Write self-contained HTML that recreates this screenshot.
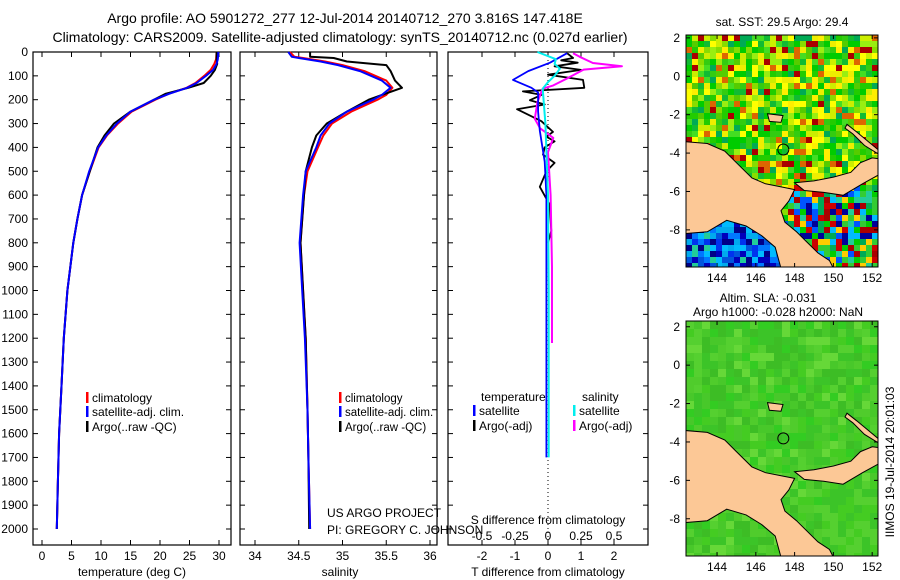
<!DOCTYPE html>
<html><head><meta charset="utf-8"><style>
html,body{margin:0;padding:0;background:#fff;}
svg{display:block;font-family:"Liberation Sans",sans-serif;}
text{fill:#000;}
</style></head><body>
<svg id="s" width="900" height="580" viewBox="0 0 900 580" xmlns="http://www.w3.org/2000/svg">
<text x="345" y="23" font-size="14" text-anchor="middle">Argo profile: AO 5901272_277 12-Jul-2014 20140712_270 3.816S 147.418E</text>
<text x="340" y="42" font-size="14" text-anchor="middle">Climatology: CARS2009. Satellite-adjusted climatology: synTS_20140712.nc (0.027d earlier)</text>
<g id="p1"></g>
<g id="p2"></g>
<g id="p3"></g>
<g id="m1"></g>
<g id="m2"></g>
<text x="327" y="517" font-size="12">US ARGO PROJECT</text>
<text x="327" y="534" font-size="12">PI: GREGORY C. JOHNSON</text>
<text x="782" y="26" font-size="12" text-anchor="middle">sat. SST: 29.5 Argo: 29.4</text>
<text x="768" y="302" font-size="12" text-anchor="middle">Altim. SLA: -0.031</text>
<text x="778" y="316" font-size="12" text-anchor="middle">Argo h1000: -0.028 h2000: NaN</text>
<text transform="translate(894,462) rotate(-90)" font-size="12" text-anchor="middle">IIMOS 19-Jul-2014 20:01:03</text>
</svg>
<script>
// ---- data ----
const depthT=[0,30,50,75,100,130,150,175,200,250,300,350,400,500,600,700,800,1000,1200,1400,1600,1800,2000];
const tempClim=[29.6,29.5,29.2,28.6,27.5,26,24.5,21.5,19.2,15.2,12.9,11,9.6,8.1,6.8,6,5.3,4.3,3.7,3.3,2.9,2.7,2.5];
const tempSat=[29.9,29.8,29.6,29.0,27.8,26.2,24.6,21.6,19.0,15.0,12.7,10.9,9.5,8.0,6.8,6,5.3,4.3,3.7,3.3,2.9,2.7,2.5];
const tempArgo=[29.6,29.6,29.7,29.3,28.6,27.4,24.8,21.0,19.0,15.0,12.2,10.6,9.4,8.1,6.8,6,5.3,4.3,3.7,3.3,2.9,2.7,2.5];
const depthS=[0,20,25,40,55,80,120,150,180,200,250,300,350,400,500,600,800,1000,1200,1500,1700,2000];
const salClim=[34.4,34.45,34.55,34.8,35.0,35.25,35.5,35.57,35.5,35.4,35.1,34.88,34.78,34.72,34.6,34.56,34.52,34.55,34.58,34.6,34.61,34.63];
const salSat=[34.38,34.42,34.5,34.75,34.95,35.2,35.45,35.55,35.45,35.35,35.05,34.85,34.75,34.7,34.58,34.55,34.51,34.54,34.57,34.6,34.61,34.63];
const salArgo=[34.63,34.63,34.9,35.05,35.5,35.55,35.6,35.68,35.45,35.3,35.05,34.82,34.7,34.65,34.58,34.56,34.52,34.55,34.58,34.6,34.61,34.62];
const depthDT=[5,45,80,117,150,170,250,330,460,600,1000,1700];
const tDiffSat=[0.58,0.06,-0.6,-1.06,-0.5,-0.3,-0.3,-0.25,-0.1,-0.05,-0.05,-0.05];
const depthDTA=[5,25,35,45,60,75,95,117,150,165,180,202,220,240,290,335,355,375,400,430,465,500,565,640,750,800];
const tDiffArgo=[0.58,0.76,0.4,0.9,0.2,1.0,0.0,1.06,1.1,-0.76,-0.2,-0.55,-0.1,-0.94,-0.2,0.15,-0.05,0.2,-0.1,-0.15,0.2,-0.05,-0.25,0.05,0.1,0.0];
const depthDS=[0,30,50,70,100,126,154,300,600,1000,1700];
const sDiffSat=[-0.08,0.06,0.05,0.09,0.05,0,-0.04,-0.02,0,0.005,0.005];
const depthDSA=[5,20,46,60,74,112,140,154,210,280,320,360,420,600,900,1220];
const sDiffArgo=[0.19,0.24,0.34,0.56,0.27,0.14,0.04,-0.04,-0.08,-0.1,-0.06,0.04,0.0,0.02,0.03,0.03];
const depthTicks=[0,100,200,300,400,500,600,700,800,900,1000,1100,1200,1300,1400,1500,1600,1700,1800,1900,2000];
const tempTicks=[0,5,10,15,20,25,30];
const salTicks=[34,34.5,35,35.5,36];
const tdTicks=[-2,-1,0,1,2];
const sdTicks=[-0.5,-0.25,0,0.25,0.5];
const sdTickLabels=["-0.5","-0.25","0","0.25","0.5"];
const latTicks=[2,0,-2,-4,-6,-8];
const lonTicks=[144,146,148,150,152];

const NS='http://www.w3.org/2000/svg';
function mk(tag,attrs,parent){const e=document.createElementNS(NS,tag);for(const k in attrs)e.setAttribute(k,attrs[k]);parent.appendChild(e);return e;}
const Y0=52,Y1=545;
const yD=d=>52+d*0.2385;

function frame(g,x0,x1,name){
  const r=mk('rect',{x:x0,y:Y0,width:x1-x0,height:Y1-Y0,fill:'none',stroke:'#000','stroke-width':1.2},g);
  
  
  depthTicks.forEach(d=>{
    mk('line',{x1:x0,x2:x0+5,y1:yD(d),y2:yD(d),stroke:'#000'},g);
    mk('line',{x1:x1,x2:x1-5,y1:yD(d),y2:yD(d),stroke:'#000'},g);
  });
}
function xTicks(g,vals,labels,fx,ty,name,tick){
  vals.forEach((v,i)=>{
    const x=fx(v);
    if(tick){mk('line',{x1:x,x2:x,y1:Y1,y2:Y1-5,stroke:'#000'},g);mk('line',{x1:x,x2:x,y1:Y0,y2:Y0+5,stroke:'#000'},g);}
    const t=mk('text',{x:x,y:ty,'font-size':12,'text-anchor':'middle'},g);
    t.textContent=labels[i];
    
    
  });
}
function line(g,xs,ds,fx,color,name,w,dash){
  const pts=xs.map((v,i)=>fx(v).toFixed(1)+','+yD(ds[i]).toFixed(1)).join(' ');
  const p=mk('polyline',{points:pts,fill:'none',stroke:color,'stroke-width':w||2,'stroke-linejoin':'round'},g);
  if(dash)p.setAttribute('stroke-dasharray',dash);
  
  
}
function legend(g,x,y,color,label,name,fs){
  if(color)mk('rect',{x:x,y:y-10,width:2.5,height:11,fill:color},g);
  const t=mk('text',{x:x+(color?6:0),y:y,'font-size':fs||12},g);
  t.textContent=label;
  
  
}

// Panel 1
const p1=document.getElementById('p1');
const fT=v=>42+v*5.9;
frame(p1,33,231,'temperature');
depthTicks.forEach(d=>{const t=mk('text',{x:28,y:yD(d)+4,'font-size':12,'text-anchor':'end'},p1);t.textContent=d;});
xTicks(p1,tempTicks,tempTicks.map(String),fT,560,'temperature',true);
line(p1,tempClim,depthT,fT,'#f00','temp-climatology-line');
line(p1,tempArgo,depthT,fT,'#000','temp-argo-line');
line(p1,tempSat,depthT,fT,'#00f','temp-satellite-line');
legend(p1,86,402,'#f00','climatology','legend-climatology');
legend(p1,86,416,'#00f','satellite-adj. clim.','legend-satellite');
legend(p1,86,431,'#000','Argo(..raw -QC)','legend-argo');
{const t=mk('text',{x:132,y:576,'font-size':12,'text-anchor':'middle'},p1);t.textContent='temperature (deg C)';}

// Panel 2
const p2=document.getElementById('p2');
const fS=v=>255+(v-34)*87.5;
frame(p2,240,437,'salinity');
xTicks(p2,salTicks,salTicks.map(String),fS,560,'salinity',true);
line(p2,salClim,depthS,fS,'#f00','sal-climatology-line');
line(p2,salArgo,depthS,fS,'#000','sal-argo-line');
line(p2,salSat,depthS,fS,'#00f','sal-satellite-line');
legend(p2,339,402,'#f00','climatology','legend-climatology-2',11.5);
legend(p2,339,416,'#00f','satellite-adj. clim.','legend-satellite-2',11.5);
legend(p2,339,431,'#000','Argo(..raw -QC)','legend-argo-2',11.5);
{const t=mk('text',{x:340,y:576,'font-size':12,'text-anchor':'middle'},p2);t.textContent='salinity';}

// Panel 3
const p3=document.getElementById('p3');
const fTD=v=>548+v*33, fSD=v=>548+v*132;
frame(p3,448,648,'difference');
mk('line',{x1:548,x2:548,y1:Y0,y2:Y1,stroke:'#000','stroke-dasharray':'1,3'},p3);
xTicks(p3,tdTicks,tdTicks.map(String),fTD,560,'tdiff',true);
xTicks(p3,sdTicks,sdTickLabels,fSD,540,'sdiff',false);
line(p3,tDiffArgo,depthDTA,fTD,'#000','tdiff-argo-line',1.8);
line(p3,sDiffArgo,depthDSA,fSD,'#f0f','sdiff-argo-line',2);
line(p3,tDiffSat,depthDT,fTD,'#00f','tdiff-satellite-line',1.8);
line(p3,sDiffSat,depthDS,fSD,'#0ee','sdiff-satellite-line',2);
legend(p3,481,401,null,'temperature','legend-temperature-header');
legend(p3,473,415,'#00f','satellite','legend-t-satellite');
legend(p3,473,430,'#000','Argo(-adj)','legend-t-argo');
legend(p3,582,401,null,'salinity','legend-salinity-header');
legend(p3,573,415,'#0ee','satellite','legend-s-satellite');
legend(p3,573,430,'#f0f','Argo(-adj)','legend-s-argo');
{const t=mk('text',{x:548,y:524,'font-size':12,'text-anchor':'middle'},p3);t.textContent='S difference from climatology';}
{const t=mk('text',{x:548,y:576,'font-size':12,'text-anchor':'middle'},p3);t.textContent='T difference from climatology';}

// Maps
const land=[[142.3,-3.4],[143.5,-3.5],[144.4,-3.9],[145,-4.5],[145.8,-5.3],[146.5,-5.6],[147.5,-5.8],[148,-5.9],[147.7,-6.5],[147.3,-7],[147.5,-7.6],[148.1,-8.1],[148.6,-8.6],[149.2,-9.2],[149.8,-9.6],[150,-10],[147.3,-10],[147,-8.9],[146.3,-8.3],[145.5,-7.8],[144.5,-7.5],[143.5,-8.1],[142.3,-8.2]];
const nb=[[148,-5.55],[149,-5.45],[150,-5.25],[150.9,-5.0],[151.4,-4.5],[152,-4.25],[152.4,-4.3],[152.4,-5.1],[151.5,-5.6],[150.5,-6.2],[149.5,-6.05],[148.5,-5.95]];
const manus=[[146.6,-1.95],[147.4,-2.05],[147.3,-2.4],[146.7,-2.35]];
const ni=[[150.7,-2.5],[151.2,-2.9],[151.8,-3.4],[152.4,-3.9],[152.4,-4.1],[151.6,-3.6],[151,-3.0],[150.6,-2.7]];
const palN=['#00cc00','#22cc00','#55cc00','#88dd00','#ccee00','#ffff00','#eeee00','#11bb33','#00aa55','#aa0000','#dd6600','#44dd22','#99ee11','#00cc00','#33cc11','#ffee00'];
const palS=['#000088','#0033ee','#0077ff','#00bbff','#00aaee','#0000bb','#0055dd','#22cc99'];
const palE=['#aa0000','#cc0000','#00aa55','#00cc00','#0055ff','#000099','#ffcc00','#22cc99','#00bbff','#33cc33'];
const palG=['#33cc22','#44cc22','#3cc428','#55d030','#66d838','#48c82a','#3dbd25','#50cc2c'];
function hash(i,j){let h=(i*374761393+j*668265263)>>>0;h=((h^(h>>>13))*1274126177)>>>0;return (h^(h>>>16))>>>0;}
function drawMap(id,top,bottom,latTop,sst){
  const g=document.getElementById(id);
  const L=686,R=878,lonL=142.4,lonR=152.3;
  const px=lo=>L+(lo-lonL)*(R-L)/(lonR-lonL);
  const py=la=>top+(latTop-la)*19.2;
  const cid='clip'+id;
  const cp=mk('clipPath',{id:cid},g);mk('rect',{x:L,y:top,width:R-L,height:bottom-top},cp);
  const cg=mk('g',{'clip-path':'url(#'+cid+')'},g);
  const cs=sst?6:8;
  for(let i=0;L+i*cs<R;i++)for(let j=0;top+j*cs<bottom;j++){
    const x=L+i*cs,y=top+j*cs;
    const lo=lonL+(x-L)/19.4, la=latTop-(y-top)/19.2;
    const h=hash(i+(sst?0:50),j);
    let c;
    if(!sst){c=palG[h%palG.length];if(la<-6&&lo>149)c=palG[(h%3)+1];}
    else if(la<-7.3&&lo<147.5)c=palS[h%palS.length];
    else if(la<-5.6&&lo>147.5)c=palE[h%palE.length];
    else c=palN[h%palN.length];
    mk('rect',{x:x,y:y,width:cs,height:cs,fill:c},cg);
  }
  [land,nb,manus,ni].forEach((poly,k)=>{
    const p=mk('polygon',{points:poly.map(q=>px(q[0]).toFixed(1)+','+py(q[1]).toFixed(1)).join(' '),fill:'#fcc896',stroke:'#000','stroke-width':1},cg);
    
    
  });
  const c=mk('circle',{cx:px(147.418),cy:py(-3.816),r:5.5,fill:'none',stroke:'#000','stroke-width':1},g);
  
  
  const f=mk('rect',{x:L,y:top,width:R-L,height:bottom-top,fill:'none',stroke:'#000','stroke-width':1},g);
  
  
  latTicks.forEach(la=>{const y=py(la);if(y<top||y>bottom)return;
    mk('line',{x1:L,x2:L+4,y1:y,y2:y,stroke:'#000'},g);mk('line',{x1:R,x2:R-4,y1:y,y2:y,stroke:'#000'},g);
    const t=mk('text',{x:L-6,y:y+4,'font-size':12,'text-anchor':'end'},g);t.textContent=la;
    
    });
  lonTicks.forEach(lo=>{const x=px(lo);
    mk('line',{x1:x,x2:x,y1:top,y2:top+4,stroke:'#000'},g);mk('line',{x1:x,x2:x,y1:bottom,y2:bottom-4,stroke:'#000'},g);
    const t=mk('text',{x:x,y:bottom+15,'font-size':12,'text-anchor':'middle'},g);t.textContent=lo;
    
    });
}
drawMap('m1',35,267,2.15,true);
drawMap('m2',321,556,2.3,false);
</script>
</body></html>
